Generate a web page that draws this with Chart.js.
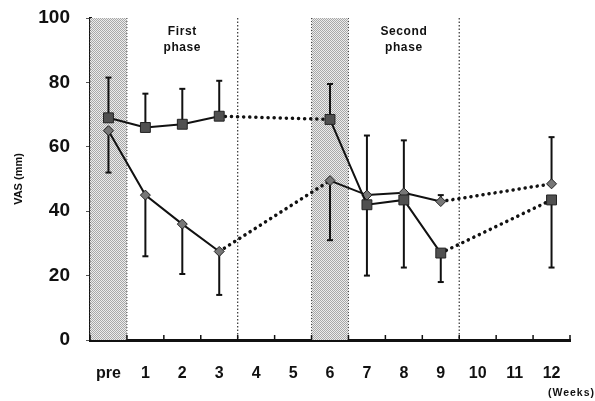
<!DOCTYPE html>
<html><head><meta charset="utf-8">
<script src="https://cdn.jsdelivr.net/npm/chart.js@4/dist/chart.umd.min.js"></script>
<style>html,body{margin:0;padding:0;background:#fff}canvas{display:block}</style>
</head><body>
<canvas id="c" width="595" height="401"></canvas>
<script>
const weeks = ['pre','1','2','3','4','5','6','7','8','9','10','11','12'];
const squareVAS      = [69, 66, 67, 69.5, null, null, 68.5, 42, 43.5, 27, null, null, 43.5];
const diamondVAS     = [65, 45, 36, 27.5, null, null, 49.5, 45, 45.7, 43, null, null, 48.5];
const squareErrHigh  = [81.5, 76.5, 78, 80.5, null, null, 79.5, null, null, null, null, null, null];
const squareErrLow   = [null, null, null, null, null, null, null, 20, 22.5, 18, null, null, 22.5];
const diamondErrHigh = [null, null, null, null, null, null, null, 63.5, 62, 45, null, null, 63];
const diamondErrLow  = [52, 26, 20.5, 14, null, null, 31, null, null, null, null, null, null];
const shadedWeeks = ['pre', '6'];
const phaseDividers = [3.5, 9.5]; // between categories
const phaseLabels = [['First','phase'], ['Second','phase']];
const phaseLabelAt = ['2', '8'];
const yTicks = [0, 20, 40, 60, 80, 100];

// stippled shading pattern
const pc = document.createElement('canvas'); pc.width = 2; pc.height = 2;
const px = pc.getContext('2d');
px.fillStyle = '#ececec'; px.fillRect(0,0,2,2);
px.fillStyle = '#a8a8a8'; px.fillRect(0,0,1,1); px.fillRect(1,1,1,1);

const isGap = ctx => ctx.p0.skip || ctx.p1.skip;

const overlay = {
  id: 'overlay',
  beforeDatasetsDraw(chart) {
    const {ctx, chartArea: a, scales: {x, y}} = chart;
    const w = x.getPixelForValue(1) - x.getPixelForValue(0);
    ctx.save();
    // shaded bands
    shadedWeeks.forEach(wk => {
      const cx = x.getPixelForValue(weeks.indexOf(wk));
      ctx.fillStyle = ctx.createPattern(pc, 'repeat');
      ctx.fillRect(cx - w/2, a.top, w, a.bottom - a.top);
      ctx.strokeStyle = '#444'; ctx.lineWidth = 1; ctx.setLineDash([1,2]);
      ctx.beginPath(); ctx.moveTo(cx + w/2, a.top); ctx.lineTo(cx + w/2, a.bottom); ctx.stroke();
      ctx.beginPath(); ctx.moveTo(cx - w/2, a.top); ctx.lineTo(cx - w/2, a.bottom); ctx.stroke();
    });
    // phase dividers
    ctx.strokeStyle = '#333'; ctx.lineWidth = 1.2; ctx.setLineDash([1.5,2]);
    phaseDividers.forEach(v => {
      const px0 = x.getPixelForValue(v);
      ctx.beginPath(); ctx.moveTo(px0, a.top); ctx.lineTo(px0, a.bottom); ctx.stroke();
    });
    ctx.setLineDash([]);
    // phase labels
    ctx.fillStyle = '#111'; ctx.font = 'bold 12px "Liberation Sans", Arial, sans-serif';
    ctx.letterSpacing = '0.6px';
    ctx.textAlign = 'center'; ctx.textBaseline = 'middle';
    phaseLabels.forEach((lines, i) => {
      const cx = x.getPixelForValue(weeks.indexOf(phaseLabelAt[i]));
      lines.forEach((t, j) => ctx.fillText(t, cx, 32 + j * 16));
    });
    // error bars
    ctx.strokeStyle = '#111'; ctx.lineWidth = 2;
    const bars = [[squareVAS, squareErrHigh], [squareVAS, squareErrLow], [diamondVAS, diamondErrHigh], [diamondVAS, diamondErrLow]];
    bars.forEach(([vals, ends]) => {
      ends.forEach((e, i) => {
        if (e == null || vals[i] == null) return;
        const cx = x.getPixelForValue(i);
        const y0 = y.getPixelForValue(vals[i]), y1 = y.getPixelForValue(e);
        ctx.beginPath(); ctx.moveTo(cx, y0); ctx.lineTo(cx, y1); ctx.stroke();
        ctx.beginPath(); ctx.moveTo(cx - 3, y1); ctx.lineTo(cx + 3, y1); ctx.stroke();
      });
    });
    // x ticks at boundaries, pointing up
    ctx.lineWidth = 1.5;
    for (let i = 0; i <= weeks.length; i++) {
      const bx = x.getPixelForValue(i - 0.5);
      ctx.beginPath(); ctx.moveTo(bx, a.bottom); ctx.lineTo(bx, a.bottom - 5); ctx.stroke();
    }
    // weeks label
    ctx.font = 'bold 10.5px "Liberation Sans", Arial, sans-serif';
    ctx.letterSpacing = '1px';
    ctx.textAlign = 'right';
    ctx.fillText('(Weeks)', 595, 393);
    ctx.restore();
  }
};

const lineDataset = (data, extra) => Object.assign({
  data, spanGaps: true, borderColor: '#111', borderWidth: 2,
  borderCapStyle: 'round',
  segment: {
    borderDash: ctx => isGap(ctx) ? [0.1, 6] : undefined,
    borderWidth: ctx => isGap(ctx) ? 3.5 : undefined
  },
  pointBorderColor: '#222', pointBorderWidth: 1
}, extra);

new Chart(document.getElementById('c'), {
  type: 'line',
  data: {
    labels: weeks,
    datasets: [
      lineDataset(squareVAS, { pointStyle: 'rect', pointRadius: 7, pointBackgroundColor: '#505050' }),
      lineDataset(diamondVAS, { pointStyle: 'rectRot', pointRadius: 5, pointBackgroundColor: '#777' })
    ]
  },
  options: {
    responsive: false, devicePixelRatio: 1, animation: false,
    layout: { padding: { top: 18, right: 25, bottom: 0, left: 12 } },
    plugins: { legend: { display: false }, tooltip: { enabled: false } },
    scales: {
      x: {
        type: 'category', offset: true,
        grid: { display: false, drawTicks: false },
        border: { display: true, color: '#111', width: 3 },
        ticks: { color: '#111', padding: 24, font: { family: '"Liberation Sans Narrow", "Liberation Sans", Arial', size: 16, weight: 'bold' } },
        afterFit: s => { s.height = 61; s.paddingLeft = 0; s.paddingRight = 0; }
      },
      y: {
        min: 0, max: 100,
        afterBuildTicks: s => { s.ticks = yTicks.map(v => ({ value: v })); },
        grid: { drawOnChartArea: false, drawTicks: true, tickLength: 4, color: '#555' },
        border: { display: true, color: '#111', width: 3 },
        ticks: { color: '#111', padding: 16, font: { family: '"Liberation Sans Narrow", "Liberation Sans", Arial', size: 19, weight: 'bold' } },
        title: { display: true, text: 'VAS (mm)', color: '#111', padding: { top: 0, bottom: 4 }, font: { family: '"Liberation Sans", Arial', size: 11, weight: 'bold' } },
        afterFit: s => { s.width = 78; s.paddingTop = 0; s.paddingBottom = 0; }
      }
    }
  },
  plugins: [overlay]
});
</script>
</body></html>
